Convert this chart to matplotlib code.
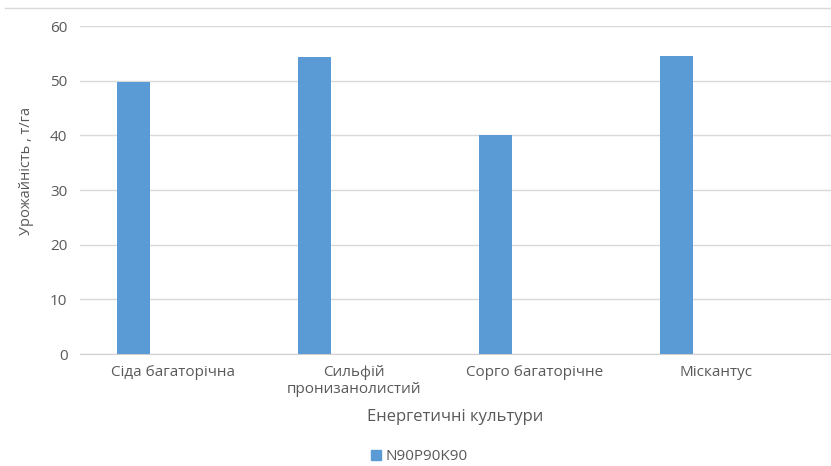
import matplotlib
matplotlib.use('Agg')
import matplotlib.pyplot as plt
from matplotlib.lines import Line2D
import numpy as np

plt.rcParams['font.family'] = ['Open Sans', 'DejaVu Sans']

# data
cultures = ['Сіда багаторічна', 'Сильфій\nпронизанолистий', 'Сорго багаторічне', 'Міскантус']
yields = [49.8, 54.3, 40.0, 54.6]
series_name = 'N90P90K90'
y_ticks = [0, 10, 20, 30, 40, 50, 60]

bar_col = '#5b9bd5'
txt_col = '#595959'
grid_col = '#d9d9d9'

fig = plt.figure(figsize=(8.31, 4.66), dpi=100)
ax = fig.add_axes([80/831, (466-354)/466, 751/831, 328/466])

x = np.arange(len(cultures))
ax.bar(x - 0.22, yields, width=0.18, color=bar_col, zorder=3)

ax.set_xlim(-0.514, 3.635)
ax.set_ylim(0, 60)
ax.set_yticks(y_ticks)
ax.set_xticks(x)
ax.set_xticklabels(cultures, fontsize=11, color=txt_col, linespacing=1.15)
ax.tick_params(axis='y', labelsize=11, labelcolor=txt_col, length=0, pad=9)
ax.tick_params(axis='x', length=0, pad=8)
ax.grid(axis='y', color=grid_col, linewidth=1, zorder=0)
for s in ['top', 'right', 'left']:
    ax.spines[s].set_visible(False)
ax.spines['bottom'].set_color('#d0d0d0')

ax.set_xlabel('Енергетичні культури', fontsize=12, color=txt_col, labelpad=9)
fig.text(26/831, 1 - 171/466, 'Урожайність , т/га', rotation=90, fontsize=10.5,
         color=txt_col, ha='center', va='center')

# thin border line at the top
fig.add_artist(Line2D([5/831, 1], [1 - 8/466, 1 - 8/466], color='#d9d9d9', lw=1))

handle = Line2D([], [], marker='s', linestyle='none', markersize=7, color=bar_col)
fig.legend([handle], [series_name], loc='center', bbox_to_anchor=(419/831, 1 - 457/466),
           frameon=False, fontsize=11, labelcolor=txt_col, handletextpad=0.2,
           handlelength=0.8)

fig.savefig('out.png', dpi=100, facecolor='white')
